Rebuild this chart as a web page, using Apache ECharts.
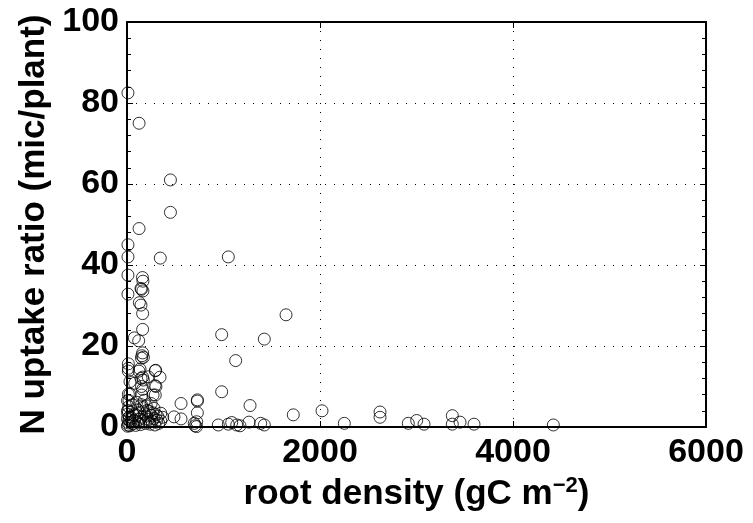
<!DOCTYPE html>
<html>
<head>
<meta charset="utf-8">
<script src="https://cdn.jsdelivr.net/npm/echarts@6/dist/echarts.min.js"></script>
<style>
  html, body { margin: 0; padding: 0; background: #fff; }
</style>
</head>
<body>
<div id="myChart" style="width: 753px; height: 523px;"></div>
<script>
  // root density (gC m-2) and N uptake ratio (mic/plant)
  var rootDensity = [
    10, 125, 450, 450, 125, 10, 10, 345, 1050, 10, 160, 165, 150, 165, 10, 145, 128, 145, 162, 1648,
    162, 76, 121, 981, 1423, 1126, 162, 155, 170, 150, 14, 14, 124, 162, 293, 342, 169, 80, 300, 162,
    14, 293, 981, 729, 729, 560, 729, 1275, 1723, 2021, 2252, 487, 560, 697, 722, 946, 1050, 1085, 1137, 1171,
    1264, 1385, 1423, 2622, 2622, 2915, 3002, 3078, 3371, 3371, 3451, 3596, 4418, 14, 135, 297, 145, 220, 31, 150,
    290, 31, 152, 270, 705, 720,
    5, 10, 15, 20, 25, 8, 12, 18, 30, 40, 50, 60, 70, 80, 90, 100, 110, 120, 130, 140,
    150, 160, 170, 180, 190, 200, 210, 220, 230, 240, 250, 260, 270, 280, 290, 300, 310, 320, 330, 350,
    150, 200, 250, 100, 60, 20, 180, 280, 230, 130, 350, 370, 5, 5, 5
  ];
  var uptakeRatio = [
    82.5, 75, 61, 53, 49, 45, 42, 41.7, 42, 37.5, 36.9, 36, 34, 33.6, 32.8, 34.2, 30.7, 30.1, 28, 27.7,
    24.1, 22, 21.3, 22.8, 21.7, 16.4, 18.3, 17.6, 17.2, 17.0, 15.6, 13.8, 13.8, 12.3, 13.9, 12.3, 11.6, 10.8, 10, 9.3,
    8.1, 7.9, 8.7, 6.7, 6.4, 5.8, 3.5, 5.3, 3.0, 4.0, 0.9, 2.5, 2.0, 0.9, 1.3, 0.5, 0.7, 1.1, 0.5, 0.3,
    1.2, 0.9, 0.5, 3.7, 2.4, 0.9, 1.6, 0.7, 2.8, 0.7, 1.2, 0.7, 0.5, 14.5, 14.3, 14, 12, 12.4, 11.2, 10,
    10.2, 8.1, 7.9, 7.9, 0.3, 0.1,
    0.2, 0.5, 1, 1.8, 2.5, 3.2, 4, 5, 0.3, 1.2, 2.2, 0.8, 3, 1.6, 0.4, 2.8, 4.2, 1.1, 3.6, 0.6,
    2.4, 4.8, 1.5, 3.3, 0.9, 2.7, 4.1, 1.9, 3.8, 0.7, 2.9, 1.4, 3.5, 2.1, 0.5, 3.1, 1.7, 2.6, 0.9, 3.4,
    5.5, 5.2, 5.8, 6.1, 5.5, 6.5, 6.6, 4.6, 1.2, 1.9, 1.5, 2.4, 2, 4, 6.5
  ];
  var xTicks = [0, 2000, 4000, 6000];
  var yTicks = [0, 20, 40, 60, 80, 100];

  var points = rootDensity.map(function (x, i) { return [x, uptakeRatio[i]]; });

  var tickFont = {
    fontFamily: 'Liberation Sans, Arial, sans-serif',
    fontWeight: 'bold',
    fontSize: 34,
    color: '#000'
  };
  var titleFont = Object.assign({}, tickFont, { fontSize: 35 });
  var axisLine = { show: true, onZero: false, lineStyle: { color: '#000', width: 2 } };
  var gridLine = { show: true, lineStyle: { color: '#000', width: 1, type: [1, 8] } };
  var tick = { show: true, inside: true, length: 6, lineStyle: { color: '#000', width: 1 } };
  var minor = { show: true, splitNumber: 5, length: 4, lineStyle: { color: '#000', width: 1 } };

  var myChart = echarts.init(document.getElementById('myChart'));
  myChart.setOption({
    animation: false,
    backgroundColor: '#fff',
    grid: { left: 127, top: 22, width: 579, height: 405, containLabel: false, outerBoundsMode: 'none' },
    xAxis: [{
      type: 'value',
      min: xTicks[0],
      max: xTicks[xTicks.length - 1],
      interval: 2000,
      position: 'bottom',
      name: 'root density (gC m{sup|\u22122})',
      nameLocation: 'middle',
      nameGap: 48,
      nameTextStyle: Object.assign({}, titleFont, {
        rich: {
          sup: Object.assign({}, titleFont, { fontSize: 22, verticalAlign: 'top', padding: [0, 0, 16, 0] })
        }
      }),
      axisLine: axisLine,
      axisTick: tick,
      axisLabel: Object.assign({ margin: 9, formatter: function (v) { return String(v); } }, tickFont),
      splitLine: gridLine
    }, {
      type: 'value',
      min: xTicks[0],
      max: xTicks[xTicks.length - 1],
      interval: 2000,
      position: 'top',
      axisLine: axisLine,
      axisTick: tick,
      axisLabel: { show: false },
      splitLine: { show: false }
    }],
    yAxis: [{
      type: 'value',
      min: yTicks[0],
      max: yTicks[yTicks.length - 1],
      interval: 20,
      position: 'left',
      name: 'N uptake ratio (mic/plant)',
      nameLocation: 'middle',
      nameGap: 74,
      nameTextStyle: titleFont,
      axisLine: axisLine,
      axisTick: tick,
      minorTick: minor,
      axisLabel: Object.assign({ margin: 8, formatter: function (v) { return String(v); } }, tickFont),
      splitLine: gridLine
    }, {
      type: 'value',
      min: yTicks[0],
      max: yTicks[yTicks.length - 1],
      interval: 20,
      position: 'right',
      axisLine: axisLine,
      axisTick: tick,
      minorTick: minor,
      axisLabel: { show: false },
      splitLine: { show: false }
    }],
    series: [{
      type: 'scatter',
      symbol: 'circle',
      symbolSize: 12,
      itemStyle: { color: 'transparent', borderColor: '#000', borderWidth: 1 },
      data: points
    }]
  });
</script>
</body>
</html>
